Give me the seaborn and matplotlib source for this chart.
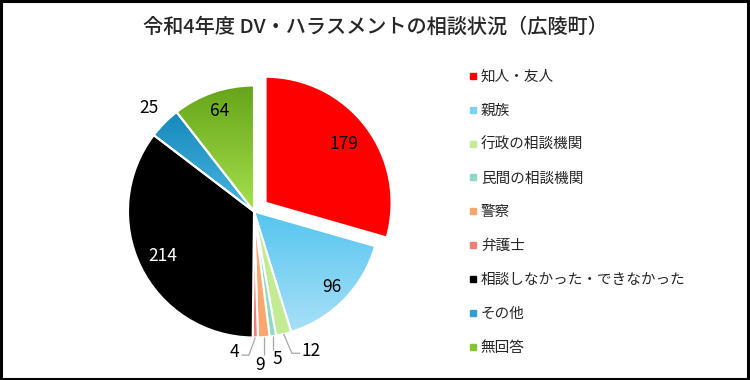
#!/usr/bin/env python3
"""令和4年度 DV・ハラスメントの相談状況（広陵町） pie chart."""

import matplotlib
matplotlib.use("Agg")

import matplotlib.pyplot as plt
import numpy as np
import seaborn as sns
from matplotlib.lines import Line2D
from matplotlib.patches import Rectangle


TITLE = "令和4年度 DV・ハラスメントの相談状況（広陵町）"

categories = [
    "知人・友人",
    "親族",
    "行政の相談機関",
    "民間の相談機関",
    "警察",
    "弁護士",
    "相談しなかった・できなかった",
    "その他",
    "無回答",
]
counts = [179, 96, 12, 5, 9, 4, 214, 25, 64]

colors = [
    "#FF0000", "#7DD3F4", "#C3EB94", "#8ED9C6", "#FBA66D",
    "#F07F78", "#000000", "#2FA1D0", "#86C334",
]
# top / bottom colours for the slices drawn with a gradient
gradients = {
    1: ("#55C5EF", "#A9E0F7"),
    7: ("#1588BB", "#4AB6E0"),
    8: ("#65A419", "#A6E04D"),
}

FONT = ["Noto Sans CJK JP", "DejaVu Sans"]


def gradient_fill(ax, wedge, top, bottom):
    verts = wedge.get_path().vertices
    x0, x1 = verts[:, 0].min(), verts[:, 0].max()
    y0, y1 = verts[:, 1].min(), verts[:, 1].max()
    c_top = np.array(matplotlib.colors.to_rgb(top))
    c_bot = np.array(matplotlib.colors.to_rgb(bottom))
    t = np.linspace(0, 1, 200)[:, None]
    img = (c_bot * (1 - t) + c_top * t)[:, None, :]
    im = ax.imshow(img, extent=[x0, x1, y0, y1], origin="lower",
                   aspect="auto", interpolation="bilinear",
                   zorder=wedge.get_zorder() - 0.5)
    im.set_clip_path(wedge)
    wedge.set_facecolor("none")


def main() -> None:
    sns.set_theme(style="white")
    plt.rcParams["font.family"] = FONT

    fig = plt.figure(figsize=(7.5, 3.8), dpi=100)
    W, H = 750, 380
    cx, cy, half = 254, 211.5, 157.5
    ax = fig.add_axes([(cx - half) / W, (H - cy - half) / H, 2 * half / W, 2 * half / H])

    explode = [0.115] + [0] * (len(counts) - 1)
    wedges, _ = ax.pie(
        counts, colors=colors, startangle=90, counterclock=False,
        explode=explode, radius=1.0,
        wedgeprops=dict(edgecolor="white", linewidth=1.5),
    )
    for i, (top, bottom) in gradients.items():
        gradient_fill(ax, wedges[i], top, bottom)

    # value labels
    inside = {0: (0.78, "black"), 1: (0.86, "black"), 6: (0.81, "white"),
              8: (0.84, "black"), 7: (1.17, "black")}
    for i, (dist, col) in inside.items():
        w = wedges[i]
        ang = np.deg2rad((w.theta1 + w.theta2) / 2)
        x = w.center[0] + dist * np.cos(ang)
        y = w.center[1] + dist * np.sin(ang)
        ax.text(x, y, str(counts[i]), ha="center", va="center",
                fontsize=12.5, color=col)

    # small slices: leader lines ending at the label
    leaders = {
        2: ((0.30, -1.125), (0.365, -1.125), (0.375, -1.108), "left"),
        3: ((None, -1.10), None, (0.188, -1.173), "center"),
        4: ((None, -1.14), None, (0.048, -1.218), "center"),
        5: ((-0.04, -1.14), (-0.10, -1.14), (-0.12, -1.118), "right"),
    }
    for i, (elbow, end, label_pos, ha) in leaders.items():
        w = wedges[i]
        ang = np.deg2rad((w.theta1 + w.theta2) / 2)
        ex, ey = np.cos(ang), np.sin(ang)
        ex_ = elbow[0] if elbow[0] is not None else ex
        xs, ys = [ex, ex_], [ey, elbow[1]]
        if end is not None:
            xs.append(end[0])
            ys.append(end[1])
        ax.plot(xs, ys, color="#A6A6A6", lw=0.9, solid_capstyle="butt")
        ax.text(label_pos[0], label_pos[1], str(counts[i]), ha=ha,
                va="center", fontsize=12.5, color="black")

    ax.set_xlim(-1.25, 1.25)
    ax.set_ylim(-1.25, 1.25)
    ax.set_aspect("equal")
    ax.axis("off")

    handles = [Line2D([], [], marker="s", linestyle="none", markersize=4.5,
                      markerfacecolor=c, markeredgecolor=c) for c in colors]
    fig.legend(handles, categories, loc="upper left",
               bbox_to_anchor=(468.5 / W, 1 - 70 / H), frameon=False,
               fontsize=10.5, handlelength=0.6, handletextpad=0.25,
               labelspacing=1.36, borderpad=0, borderaxespad=0)

    fig.text(0.5, 1 - 27 / H, TITLE, ha="center", va="center",
             fontsize=14.5, fontweight="medium")

    fig.patches.append(Rectangle((0.0015, 0.002), 0.996, 0.995,
                                 transform=fig.transFigure, fill=False,
                                 edgecolor="black", linewidth=2.2))

    fig.savefig("out.png", dpi=100)
    plt.close(fig)


if __name__ == "__main__":
    main()
